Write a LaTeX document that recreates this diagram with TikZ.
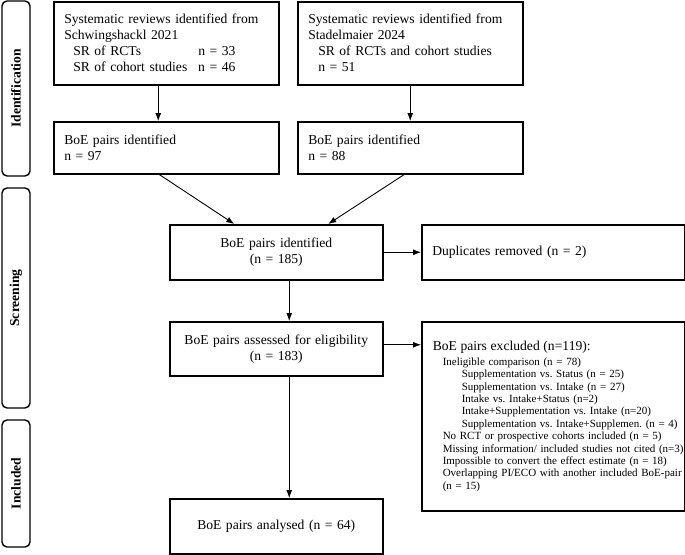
\documentclass[tikz,border=0pt]{standalone}
\usepackage{fontspec}
\setmainfont{Liberation Serif}
\usetikzlibrary{arrows.meta}
\frenchspacing
\begin{document}
\begin{tikzpicture}[x=1pt,y=-1pt,
  box/.style={draw, line width=1.5pt, inner ysep=0pt, inner xsep=10.5pt,
    font=\frenchspacing\fontsize{13.6}{16}\selectfont, align=left, anchor=north west},
  cbox/.style={box, align=center},
  side/.style={draw, line width=1.4pt, rounded corners=5pt, rotate=90,
    minimum height=28pt, inner sep=0pt, font=\bfseries\fontsize{13.6}{16}\selectfont},
  arr/.style={-{Latex[length=8pt,width=6pt]}, line width=0.9pt},
  small/.style={font=\frenchspacing\fontsize{11.0}{12.4}\selectfont}
]
\useasboundingbox (0,0) rectangle (685,554);

% side labels
\node[side, minimum width=175pt] (sid) at (16,88.5) {Identification};
\node[side, minimum width=220pt] (sscr) at (16,298) {Screening};
\node[side, minimum width=127pt] (sinc) at (16,483.5) {Included};

% identification boxes
\node[box, text width=204pt, minimum height=83pt] (sr1) at (53,1) {Systematic reviews identified from\\
Schwingshackl 2021\\
\hspace*{9pt}\makebox[125pt][l]{SR of RCTs}n = 33\\
\hspace*{9pt}\makebox[125pt][l]{SR of cohort studies}n = 46};
\node[box, text width=204pt, minimum height=83pt] (sr2) at (297,1) {Systematic reviews identified from\\
Stadelmaier 2024\\
\hspace*{10pt}SR of RCTs and cohort studies\\
\hspace*{10pt}n = 51};
\node[box, text width=204pt, minimum height=52pt] (b97) at (53,121) {BoE pairs identified\\ n = 97};
\node[box, text width=204pt, minimum height=52pt] (b88) at (297,121) {BoE pairs identified\\ n = 88};

% screening
\node[cbox, text width=192pt, minimum height=55pt] (b185) at (169,224) {BoE pairs identified\\ (n = 185)};
\node[box, text width=242pt, minimum height=55pt] (dup) at (421,224) {Duplicates removed (n = 2)};
\node[cbox, text width=192pt, minimum height=54pt] (b183) at (169,321) {BoE pairs assessed for eligibility\\ (n = 183)};
\node[box, small, inner xsep=5.5pt, text width=252pt, minimum height=189pt] (excl) at (421,321) {\hspace*{5.5pt}{\fontsize{13.6}{16}\selectfont BoE pairs excluded (n=119):}\\[2.5pt]
\hspace*{15.5pt}\mbox{Ineligible comparison (n = 78)}\\
\hspace*{34.5pt}\mbox{Supplementation vs. Status (n = 25)}\\
\hspace*{34.5pt}\mbox{Supplementation vs. Intake (n = 27)}\\
\hspace*{34.5pt}\mbox{Intake vs. Intake+Status (n=2)}\\
\hspace*{34.5pt}\mbox{Intake+Supplementation vs. Intake (n=20)}\\
\hspace*{34.5pt}\mbox{Supplementation vs. Intake+Supplemen. (n = 4)}\\
\hspace*{15.5pt}\mbox{No RCT or prospective cohorts included (n = 5)}\\
\hspace*{15.5pt}\mbox{Missing information/ included studies not cited (n=3)}\\
\hspace*{15.5pt}\mbox{Impossible to convert the effect estimate (n = 18)}\\
\hspace*{15.5pt}\mbox{Overlapping PI/ECO with another included BoE-pair}\\
\hspace*{15.5pt}(n = 15)};

% included
\node[cbox, text width=192pt, minimum height=55pt] (anal) at (169,498) {BoE pairs analysed (n = 64)};

% connectors
\draw[arr] ([xshift=-8pt]sr1.south) -- ([xshift=-8pt]b97.north);
\draw[arr] (sr2.south) -- (b88.north);
\draw[arr] ([xshift=-7pt]b97.south) -- ([xshift=-42pt]b185.north);
\draw[arr] ([xshift=-6pt]b88.south) -- ([xshift=52pt]b185.north);
\draw[arr] (b185.east) -- (dup.west);
\draw[arr] ([xshift=13pt]b185.south) -- ([xshift=13pt]b183.north);
\draw[arr] ([yshift=4pt]b183.east) -- ([yshift=4pt]excl.west |- b183.east);
\draw[arr] ([xshift=13pt]b183.south) -- ([xshift=13pt]anal.north);
\end{tikzpicture}
\end{document}
